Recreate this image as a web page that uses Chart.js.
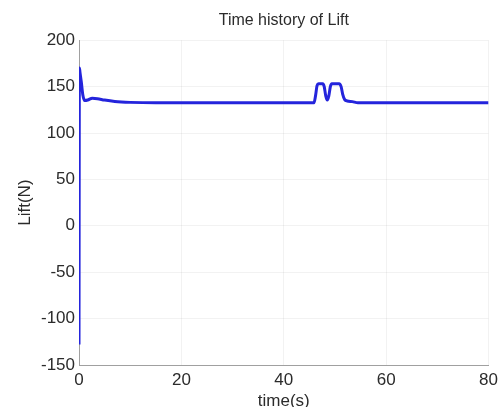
<!DOCTYPE html>
<html>
<head>
<meta charset="utf-8">
<script src="https://cdn.jsdelivr.net/npm/chart.js@4"></script>
<style>
  html, body { margin: 0; padding: 0; background: #fff; }
  #wrap { width: 503px; height: 407px; }
</style>
</head>
<body>
<div id="wrap"><canvas id="liftChart" width="503" height="407"></canvas></div>
<script>
// time history of lift
const timeSec = [0, 0.08, 0.2, 0.45, 0.75, 1.1, 1.7, 2.6, 3.6, 5, 7, 10, 15,
                 45.9, 46.2, 46.5, 46.8, 47.6, 47.9, 48.2, 48.5, 48.8, 49.1, 49.4, 50.8, 51.2, 51.5, 51.9, 52.4, 53.4, 54.5, 80];
const liftN   = [-128, 170, 165, 155, 141, 135, 135.5, 137.5, 137, 135.5, 134, 133, 132.5,
                 132.5, 140, 151, 153, 153, 150, 140, 135.5, 140, 150, 153, 153, 150, 142, 136, 134.5, 133.8, 132.5, 132.5];

const xTicks = [0, 20, 40, 60, 80];
const yTicks = [-150, -100, -50, 0, 50, 100, 150, 200];

const textColor = '#2b2b2b';
const tickFont = { family: 'Liberation Sans, Arial, sans-serif', size: 17 };

const ctx = document.getElementById('liftChart').getContext('2d');
const chart = new Chart(ctx, {
    type: 'line',
    data: {
        datasets: [{
            label: 'Lift',
            data: timeSec.map((t, i) => ({ x: t, y: liftN[i] })),
            borderColor: '#2424dc',
            backgroundColor: 'transparent',
            borderWidth: 3,
            pointRadius: 0,
            cubicInterpolationMode: 'monotone'
        }]
    },
    options: {
        responsive: false,
        animation: false,
        layout: { padding: { right: 13, left: 0, bottom: 0 } },
        plugins: {
            legend: { display: false },
            tooltip: { enabled: false },
            title: {
                display: true,
                text: 'Time history of Lift',
                fullSize: false,
                color: textColor,
                font: { family: 'Liberation Sans, Arial, sans-serif', size: 16, weight: 'normal' },
                padding: { top: 11, bottom: 10 }
            }
        },
        scales: {
            x: {
                type: 'linear',
                min: 0, max: 80,
                afterBuildTicks: s => { s.ticks = xTicks.map(v => ({ value: v })); },
                afterFit: s => { s.height = 42; },
                grid: { color: 'rgba(0,0,0,0.05)', drawTicks: false },
                border: { color: '#a0a0a0', width: 1 },
                ticks: { color: textColor, font: tickFont, padding: 5, maxRotation: 0 },
                title: { display: true, text: 'time(s)', color: textColor, font: tickFont, padding: { top: 3, bottom: -5 } }
            },
            y: {
                min: -150, max: 200,
                afterBuildTicks: s => { s.ticks = yTicks.map(v => ({ value: v })); },
                afterFit: s => { s.width = 79; },
                grid: { color: 'rgba(0,0,0,0.05)', drawTicks: false },
                border: { color: '#a0a0a0', width: 1 },
                ticks: { color: textColor, font: tickFont, padding: 4 },
                title: { display: true, text: 'Lift(N)', color: textColor, font: tickFont, padding: { top: 15, bottom: 4 } }
            }
        }
    }
});
</script>
</body>
</html>
